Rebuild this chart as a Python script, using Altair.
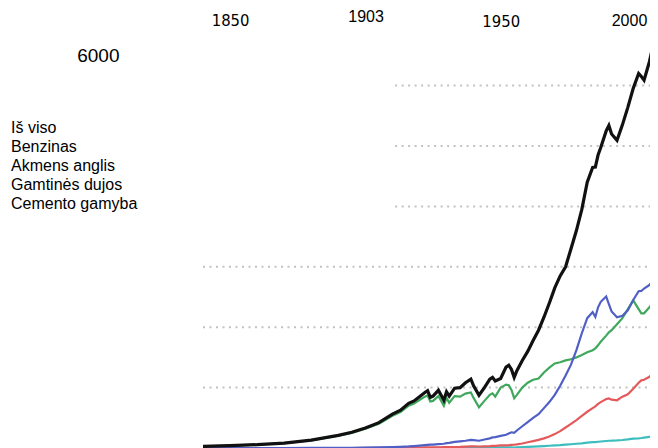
import altair as alt
import pandas as pd

# ---- data (million tonnes of carbon) ----
years = [1830, 1840, 1850, 1860, 1870, 1880, 1885, 1890, 1895, 1900, 1903, 1906, 1908,
         1910, 1912, 1913, 1914, 1915, 1917, 1919, 1920, 1921, 1923, 1925, 1927, 1929,
         1930, 1932, 1934, 1936, 1937, 1938, 1940, 1942, 1943, 1944, 1945, 1946, 1948,
         1950, 1952, 1954, 1956, 1958, 1960, 1962, 1964, 1966, 1968, 1970, 1972, 1974,
         1975, 1976, 1977, 1979, 1980, 1981, 1983, 1985, 1987, 1989, 1991, 1992, 1993,
         1995, 1996, 1997, 1998, 1999, 2000, 2002, 2004]

total = [28, 40, 55, 80, 130, 210, 260, 330, 420, 560, 625, 740, 780,
         850, 920, 950, 840, 860, 955, 790, 930, 860, 990, 1000, 1080, 1140,
         1030, 873, 1000, 1140, 1170, 1110, 1150, 1340, 1370, 1300, 1170, 1280, 1450,
         1600, 1780, 1950, 2165, 2400, 2650, 2850, 3000, 3300, 3600, 3950, 4400, 4645,
         4650, 4850, 4975, 5250, 5340, 5200, 5095, 5350, 5640, 5955, 6200, 6150, 6090,
         6400, 6600, 6640, 6540, 6500, 6700, 6900, 7300]

oil = [0, 0, 0, 0, 1, 3, 4, 7, 10, 16, 20, 26, 32,
       40, 48, 52, 55, 57, 65, 70, 80, 85, 100, 110, 120, 135,
       130, 120, 140, 160, 175, 180, 200, 220, 240, 260, 250, 290, 360,
       430, 500, 560, 660, 760, 880, 1030, 1200, 1380, 1620, 1900, 2150, 2250,
       2170, 2330, 2420, 2510, 2380, 2260, 2165, 2190, 2280, 2450, 2595, 2600, 2640,
       2700, 2760, 2800, 2810, 2830, 2850, 2900, 3050]

coal = [28, 40, 55, 79, 127, 203, 250, 318, 403, 535, 595, 700, 735,
        795, 850, 870, 770, 780, 860, 700, 830, 750, 860, 850, 900, 920,
        830, 675, 780, 880, 905, 850, 1000, 1050, 1040, 960, 825, 880, 1000,
        1080, 1130, 1150, 1250, 1330, 1400, 1420, 1450, 1470, 1500, 1540, 1585, 1620,
        1650, 1700, 1760, 1860, 1915, 1950, 2050, 2150, 2300, 2445, 2300, 2230, 2230,
        2330, 2400, 2410, 2380, 2300, 2350, 2500, 2800]

gas = [0, 0, 0, 0, 0, 0, 0, 2, 3, 4, 5, 6, 7,
       8, 9, 10, 10, 11, 12, 13, 14, 14, 16, 18, 22, 27,
       27, 25, 28, 32, 35, 36, 42, 45, 48, 52, 55, 60, 75,
       95, 115, 135, 160, 190, 230, 280, 340, 400, 460, 530, 600, 660,
       690, 730, 760, 810, 820, 800, 790, 850, 890, 980, 1080, 1120, 1130,
       1180, 1230, 1260, 1285, 1300, 1320, 1380, 1450]

cement = [0, 0, 0, 0, 0, 0, 0, 0, 0, 0, 0, 0, 1,
          1, 2, 2, 2, 2, 2, 3, 3, 3, 4, 5, 6, 7,
          7, 6, 7, 9, 10, 10, 11, 11, 10, 9, 8, 10, 14,
          18, 22, 27, 32, 37, 43, 48, 55, 62, 70, 78, 88, 96,
          98, 104, 108, 116, 120, 121, 125, 132, 142, 155, 160, 165, 172,
          185, 190, 200, 210, 215, 225, 250, 298]

series_names = ["Iš viso", "Benzinas", "Akmens anglis", "Gamtinės dujos", "Cemento gamyba"]
series_colors = ["#111111", "#4f5fc6", "#3fa85c", "#e45a5c", "#3dbdbd"]

x_labels = [1850, 1903, 1950, 2000]
y_labels = [6000]

grid_values = [1000, 2000, 3000, 4000, 5000, 6000]
grid_start = [1830, 1830, 1830, 1901, 1901, 1901]

# ---- tables ----
values_by_series = {
    "Cemento gamyba": cement,
    "Gamtinės dujos": gas,
    "Akmens anglis": coal,
    "Benzinas": oil,
    "Iš viso": total,
}
rows = []
for name, vals in values_by_series.items():
    for yr, v in zip(years, vals):
        rows.append({"year": yr, "value": v, "series": name})
df = pd.DataFrame(rows)

grid_df = pd.DataFrame({"value": grid_values, "start": grid_start})

NARROW = "'Liberation Sans Narrow', 'DejaVu Sans Condensed', 'Liberation Sans', Arial, sans-serif"
SANS = "'Liberation Sans', Arial, sans-serif"

# the visible plot is 447 px wide; the scale keeps running a little past it
x_scale = alt.Scale(domain=[1830, 2000], range=[0, 460], nice=False, zero=False)
y_scale = alt.Scale(domain=[0, 6838], nice=False)

big_test = "datum.value == 1850 || datum.value == 1950"
x_axis = alt.Axis(
    orient="top", values=x_labels, format="d", title=None,
    domain=False, ticks=False, tickSize=0, grid=False,
    labelFlush=False, labelOverlap=False,
    labelBaseline="alphabetic", labelColor="#000000",
    labelFont={"condition": {"test": big_test, "value": NARROW}, "value": SANS},
    labelFontSize={"condition": {"test": big_test, "value": 16.5}, "value": 16},
    labelOffset={"condition": [{"test": "datum.value == 1903", "value": -35},
                               {"test": "datum.value == 2000", "value": -34}],
                 "value": -27},
    labelPadding={"condition": [{"test": "datum.value == 1903", "value": 14},
                                {"test": "datum.value == 1950", "value": 9}],
                  "value": 10},
)
y_axis = alt.Axis(
    orient="left", values=y_labels, format="d", title=None,
    domain=False, ticks=False, tickSize=0, grid=False,
    labelFont=SANS, labelFontSize=19, labelColor="#000000",
    labelAlign="right", labelBaseline="alphabetic",
    labelPadding=84, labelOffset=-24,
)

grid = alt.Chart(grid_df).mark_rule(
    color="#c2c2c2", strokeWidth=2, strokeDash=[2, 4.5], clip=True
).encode(
    x=alt.X("start:Q", scale=x_scale, axis=x_axis),
    x2=alt.datum(2000),
    y=alt.Y("value:Q", scale=y_scale, axis=y_axis),
)

lines = alt.Chart(df).mark_line(clip=True).encode(
    x=alt.X("year:Q", scale=x_scale, axis=x_axis),
    y=alt.Y("value:Q", scale=y_scale, axis=y_axis),
    color=alt.Color(
        "series:N",
        scale=alt.Scale(domain=series_names, range=series_colors),
        legend=alt.Legend(
            title=None, orient="none", legendX=-208, legendY=85,
            labelFont=SANS, labelFontSize=16, labelColor="#000000",
            symbolOpacity=0, symbolSize=0, symbolStrokeWidth=0,
            labelOffset=0, rowPadding=3, padding=0,
        ),
    ),
    strokeWidth=alt.condition(alt.datum.series == "Iš viso", alt.value(3.2), alt.value(2.2)),
)

chart = alt.layer(grid, lines).properties(
    width=447, height=413,
    background="#ffffff",
    autosize=alt.AutoSizeParams(type="none"),
    padding={"left": 195, "top": 27, "right": 0, "bottom": 0},
).configure_view(strokeWidth=0)

chart.save("out.html", embed_options={"renderer": "svg", "actions": False})
